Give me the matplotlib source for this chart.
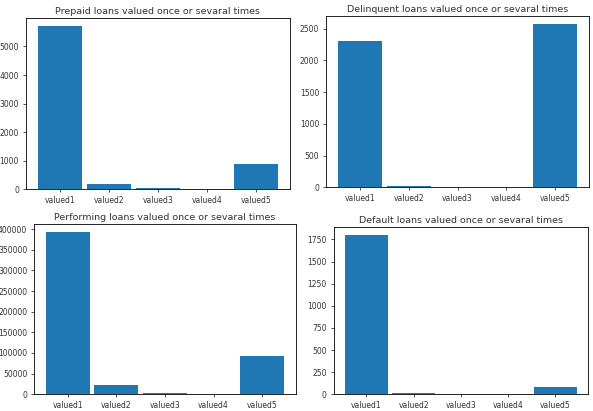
import matplotlib
matplotlib.use("Agg")
import matplotlib.pyplot as plt

# categories shared by all four panels
labels = ["valued1", "valued2", "valued3", "valued4", "valued5"]

# counts
prepaid = [5700, 175, 40, 0, 880]
delinquent = [2300, 20, 1, 1, 2575]
performing = [391800, 22000, 2400, 0, 93000]
default = [1800, 11, 0, 0, 87]

titles = [
    "Prepaid loans valued once or sevaral times",
    "Delinquent loans valued once or sevaral times",
    "Performing loans valued once or sevaral times",
    "Default loans valued once or sevaral times",
]

# the original is four separate notebook figures pasted together,
# so every axes gets its own rectangle
rects = [
    [0.0433, 0.5394, 0.4457, 0.4161],
    [0.5497, 0.5443, 0.4440, 0.4175],
    [0.0573, 0.0406, 0.4418, 0.4136],
    [0.5624, 0.0406, 0.4297, 0.4071],
]

plt.rcParams["font.family"] = "DejaVu Sans"
plt.rcParams["axes.linewidth"] = 0.6
plt.rcParams["xtick.major.width"] = 0.6
plt.rcParams["ytick.major.width"] = 0.6
plt.rcParams["xtick.major.size"] = 2.4
plt.rcParams["ytick.major.size"] = 2.4
plt.rcParams["xtick.major.pad"] = 2.4
plt.rcParams["ytick.major.pad"] = 2.4

fig = plt.figure(figsize=(5.93, 4.11), dpi=100)

for vals, title, rect in zip([prepaid, delinquent, performing, default], titles, rects):
    ax = fig.add_axes(rect)
    x = range(len(labels))
    ax.bar(x, vals, width=0.9, color="#1f77b4")
    ax.set_xticks(list(x))
    ax.set_xticklabels(labels)
    ax.tick_params(labelsize=5.5, colors="#333333")
    ax.set_title(title, fontsize=6.8, pad=3, color="#333333")

fig.savefig("out.png", dpi=100)
